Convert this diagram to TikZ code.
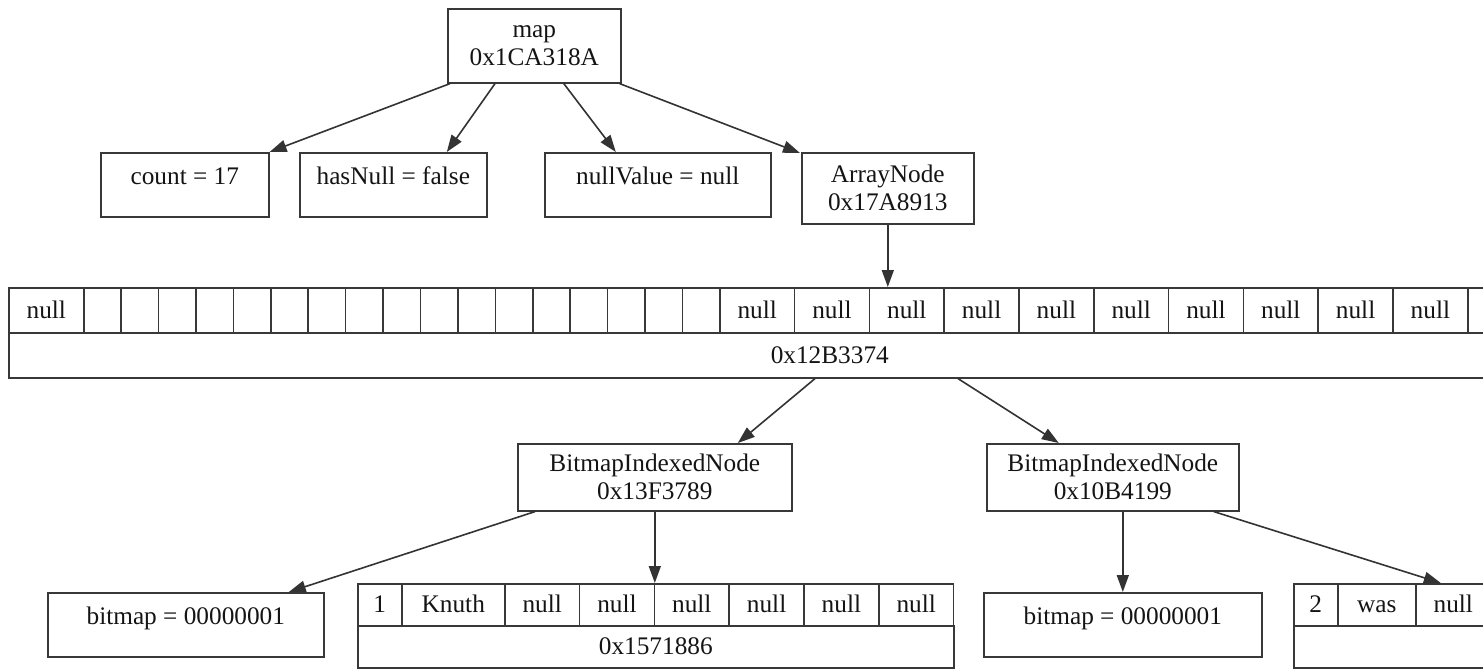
\documentclass[tikz,border=0pt]{standalone}
\usepackage{fontspec}
\setmainfont{Liberation Serif}
\usetikzlibrary{arrows.meta,calc}
\begin{document}
\begin{tikzpicture}[x=1pt,y=-1pt,
  every node/.style={font=\fontsize{25.3}{28}\selectfont, text=black!92},
  frame/.style={draw=black!78, line width=1.6pt, inner sep=0pt, anchor=north west},
  onebox/.style={frame, text height=12pt, text depth=12pt},
  twobox/.style={frame, align=center},
  cell/.style={frame, text height=16pt, text depth=0pt},
  arr/.style={draw=black!80, line width=1.6pt, -{Triangle[length=17pt,width=12pt]}}]
\useasboundingbox (0,0) rectangle (1483,670);
\clip (0,0) rectangle (1483,670);

% root object and its fields
\node[twobox, minimum width=173, minimum height=74] (map) at (447,8) {map\\0x1CA318A};
\node[onebox, minimum width=168, minimum height=64] (count) at (100,152) {count = 17};
\node[onebox, minimum width=187, minimum height=64] (hasnull) at (299,152) {hasNull = false};
\node[onebox, minimum width=226, minimum height=64] (nullval) at (544,152) {nullValue = null};
\node[twobox, minimum width=172, minimum height=71] (arraynode) at (801,152) {ArrayNode\\0x17A8913};

% ArrayNode's array of slots (the row runs on past the right edge)
\node[cell, minimum width=75, minimum height=45] (a0) at (8,287) {null};
\foreach \i in {1,...,17}
  \node[cell, minimum width=37.41, minimum height=45] (a\i) at ({83+(\i-1)*37.41},287) {};
\foreach \i in {18,...,27}
  \node[cell, minimum width=74.8, minimum height=45] (a\i) at ({719+(\i-18)*74.8},287) {null};
\foreach \i in {28,29}
  \node[cell, minimum width=74.8, minimum height=45] (a\i) at ({719+(\i-18)*74.8},287) {};
\node[cell, minimum width=1642, minimum height=45] (abot) at (8,332) {0x12B3374};

% bitmap indexed nodes
\node[twobox, minimum width=274, minimum height=67] (bin1) at (517,443) {BitmapIndexedNode\\0x13F3789};
\node[twobox, minimum width=252, minimum height=67] (bin2) at (986,443) {BitmapIndexedNode\\0x10B4199};

% first node: bitmap and key/value array
\node[onebox, minimum width=276, minimum height=64] (bitmap1) at (47,592) {bitmap = 00000001};
\node[cell, minimum width=44, minimum height=42] (k1) at (357,583) {1};
\node[cell, minimum width=103, minimum height=42] (v1) at (401,583) {Knuth};
\foreach \i in {0,...,5}
  \node[cell, minimum width=74.8, minimum height=42] (p\i) at ({504+\i*74.8},583) {null};
\node[cell, minimum width=596, minimum height=42] (pbot) at (357,625) {0x1571886};

% second node: bitmap and key/value array
\node[onebox, minimum width=278, minimum height=64] (bitmap2) at (983,592) {bitmap = 00000001};
\node[cell, minimum width=44, minimum height=42] (k2) at (1293,583) {2};
\node[cell, minimum width=78, minimum height=42] (v2) at (1337,583) {was};
\node[cell, minimum width=75, minimum height=42] (q0) at (1415,583) {null};
\foreach \i in {1,...,5}
  \node[cell, minimum width=75, minimum height=42] (q\i) at ({1415+\i*75},583) {};
\node[cell, minimum width=572, minimum height=42] (qbot) at (1293,625) {};

% references
\draw[arr] ($(map.south west)+(3,0)$) -- (count.north east);
\draw[arr] ($(map.south west)+(48,0)$) -- ($(hasnull.north)+(53.5,0)$);
\draw[arr] ($(map.south)+(29.5,0)$) -- ($(nullval.north)+(-42,0)$);
\draw[arr] ($(map.south east)+(-2,0)$) -- ($(arraynode.north west)+(-1,1)$);
\draw[arr] (arraynode.south) -- (arraynode.south |- a20.north);
\draw[arr] ($(abot.south west)+(807,0)$) -- ($(bin1.north)+(83,0)$);
\draw[arr] ($(abot.south west)+(950,0)$) -- ($(bin2.north)+(-54,0)$);
\draw[arr] ($(bin1.south west)+(18,0)$) -- ($(bitmap1.north)+(103,0)$);
\draw[arr] (bin1.south) -- (bin1.south |- p2.north);
\draw[arr] (bitmap2.north |- bin2.south) -- (bitmap2.north);
\draw[arr] ($(bin2.south)+(101,0)$) -- ($(q0.north)+(-12.5,0)$);
\end{tikzpicture}
\end{document}
